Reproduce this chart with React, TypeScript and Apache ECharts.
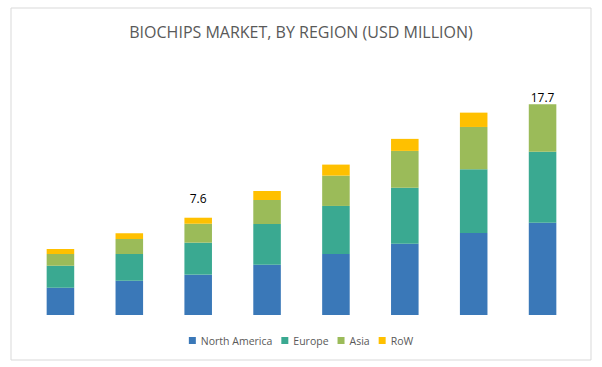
import React, { useEffect, useRef } from 'react';
import * as echarts from 'echarts';

const categories = ['2016', '2017', '2018', '2019', '2020', '2021', '2022', '2023'];
const northAmerica = [2.13, 2.68, 3.15, 3.93, 4.77, 5.57, 6.41, 7.21];
const europe = [1.72, 2.09, 2.5, 3.18, 3.75, 4.38, 4.98, 5.55];
const asia = [0.91, 1.17, 1.48, 1.88, 2.37, 2.87, 3.3, 3.7];
const row = [0.39, 0.45, 0.47, 0.7, 0.86, 0.94, 1.12, 0];
const totalLabels = ['', '', '7.6', '', '', '', '', '17.7'];
const labelDistances = [0, 0, 13, 0, 0, 0, 0, 1];

const seriesNames = ['North America', 'Europe', 'Asia', 'RoW'];
const colors = ['#3a78b8', '#3aa991', '#9bbb59', '#ffc000'];

export default function App() {
  const ref = useRef<HTMLDivElement>(null);
  useEffect(() => {
    if (!ref.current) return;
    const chart = echarts.init(ref.current, null, { renderer: 'svg' });
    const font = 'Open Sans';
    const datasets = [northAmerica, europe, asia, row];
    const series = datasets.map((d, si) => ({
      name: seriesNames[si],
      type: 'bar',
      stack: 'total',
      barWidth: '40%',
      itemStyle: { color: colors[si] },
      data: d.map((v, i) => {
        if (si === 3 && totalLabels[i]) {
          return {
            value: v,
            label: {
              show: true,
              position: 'top',
              distance: labelDistances[i],
              formatter: () => totalLabels[i],
              color: '#000000',
              fontFamily: font,
              fontSize: 12,
            },
          };
        }
        return v;
      }),
    }));
    chart.setOption({
      animation: false,
      backgroundColor: '#ffffff',
      color: colors,
      title: {
        text: 'BIOCHIPS MARKET, BY REGION (USD MILLION)',
        left: 'center',
        top: 19,
        textStyle: { color: '#595959', fontFamily: font, fontSize: 16, fontWeight: 'normal' },
      },
      legend: {
        bottom: 16,
        left: 'center',
        itemWidth: 7,
        itemHeight: 7,
        itemGap: 9,
        icon: 'rect',
        textStyle: { color: '#595959', fontFamily: font, fontSize: 10.5 },
        data: seriesNames,
      },
      grid: { left: 26, right: 25, top: 84.6, bottom: 52 },
      xAxis: {
        type: 'category',
        data: categories,
        axisLine: { show: false },
        axisTick: { show: false },
        axisLabel: { show: false },
      },
      yAxis: {
        type: 'value',
        min: 0,
        max: 18,
        show: false,
        splitLine: { show: false },
      },
      graphic: [
        {
          type: 'rect',
          shape: { x: 11, y: 8, width: 580, height: 352 },
          style: { fill: 'none', stroke: '#d9d9d9', lineWidth: 1 },
          silent: true,
        },
      ],
      series,
    });
    return () => chart.dispose();
  }, []);
  return (
    <div
      ref={ref}
      style={{ position: 'fixed', left: 0, top: 0, width: 602, height: 367 }}
    />
  );
}
